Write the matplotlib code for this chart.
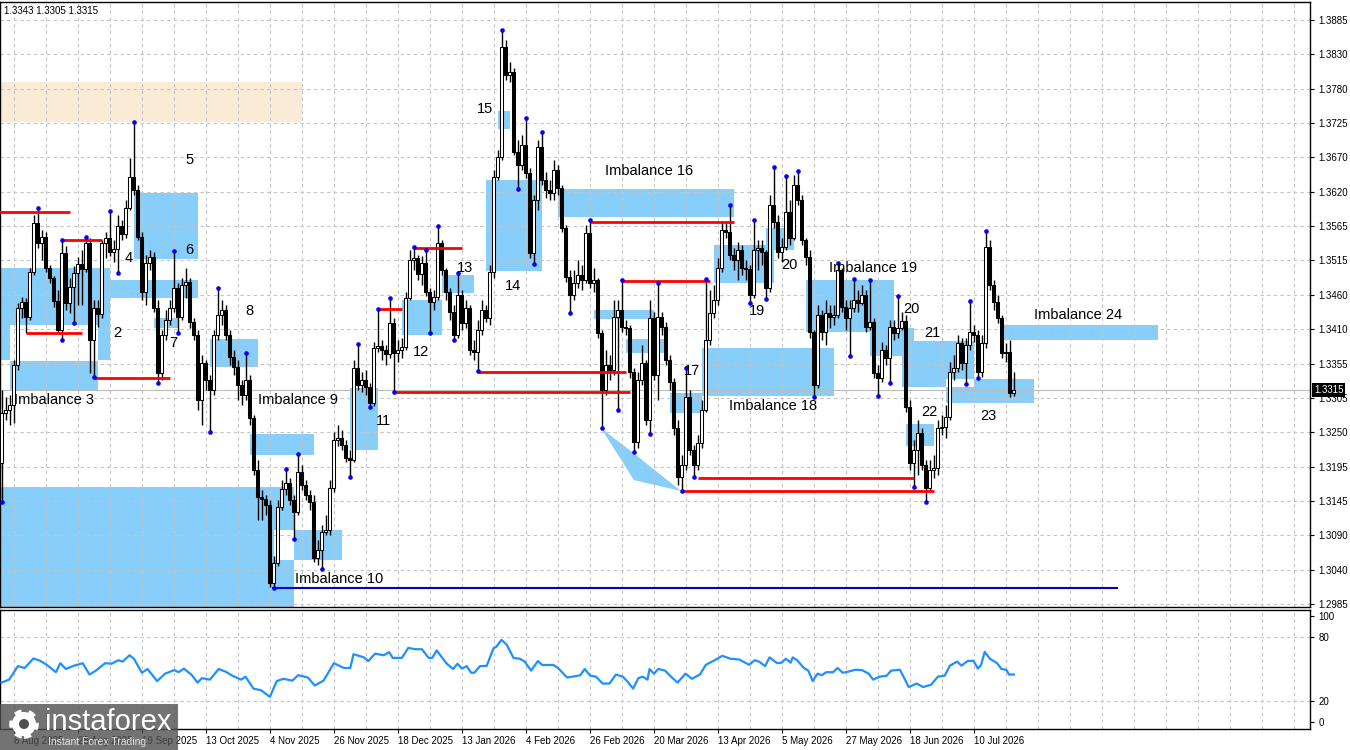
import numpy as np
import matplotlib.pyplot as plt
from matplotlib.patches import Rectangle, Polygon, Circle

plt.rcParams['font.family'] = ['Liberation Sans', 'DejaVu Sans']

# ---- daily candles (bar 0 = 1 Aug 2025) ----
first_open = 1.3202
closes = [1.3279, 1.3284, 1.3292, 1.3353, 1.3441, 1.3450, 1.3427, 1.3497, 1.3572, 1.3541,
          1.3551, 1.3503, 1.3487, 1.3452, 1.3407, 1.3526, 1.3449, 1.3474, 1.3495, 1.3509,
          1.3501, 1.3541, 1.3392, 1.3441, 1.3432, 1.3541, 1.3549, 1.3527, 1.3532, 1.3567,
          1.3555, 1.3595, 1.3643, 1.3623, 1.3551, 1.3466, 1.3510, 1.3520, 1.3441, 1.3341,
          1.3400, 1.3423, 1.3441, 1.3472, 1.3427, 1.3477, 1.3481, 1.3420, 1.3400, 1.3299,
          1.3356, 1.3330, 1.3315, 1.3400, 1.3430, 1.3438, 1.3400, 1.3366, 1.3350, 1.3322,
          1.3307, 1.3330, 1.3272, 1.3191, 1.3150, 1.3147, 1.3138, 1.3017, 1.3048, 1.3134,
          1.3162, 1.3171, 1.3145, 1.3127, 1.3188, 1.3168, 1.3153, 1.3142, 1.3056, 1.3068,
          1.3096, 1.3099, 1.3164, 1.3238, 1.3241, 1.3230, 1.3210, 1.3207, 1.3349, 1.3322,
          1.3330, 1.3319, 1.3295, 1.3379, 1.3383, 1.3376, 1.3370, 1.3418, 1.3372, 1.3376,
          1.3381, 1.3457, 1.3515, 1.3518, 1.3494, 1.3510, 1.3466, 1.3450, 1.3458, 1.3541,
          1.3500, 1.3466, 1.3435, 1.3400, 1.3461, 1.3418, 1.3441, 1.3376, 1.3373, 1.3407,
          1.3438, 1.3426, 1.3497, 1.3643, 1.3674, 1.3843, 1.3800, 1.3805, 1.3682, 1.3662,
          1.3692, 1.3649, 1.3526, 1.3608, 1.3689, 1.3638, 1.3623, 1.3618, 1.3654, 1.3626,
          1.3564, 1.3489, 1.3461, 1.3480, 1.3492, 1.3484, 1.3557, 1.3480, 1.3484, 1.3403,
          1.3315, 1.3353, 1.3346, 1.3427, 1.3438, 1.3412, 1.3410, 1.3343, 1.3235, 1.3330,
          1.3356, 1.3269, 1.3426, 1.3338, 1.3427, 1.3412, 1.3361, 1.3327, 1.3256, 1.3181,
          1.3199, 1.3304, 1.3222, 1.3199, 1.3233, 1.3284, 1.3392, 1.3434, 1.3453, 1.3503,
          1.3561, 1.3558, 1.3523, 1.3515, 1.3531, 1.3503, 1.3501, 1.3461, 1.3531, 1.3534,
          1.3527, 1.3472, 1.3600, 1.3574, 1.3527, 1.3535, 1.3589, 1.3549, 1.3631, 1.3608,
          1.3546, 1.3520, 1.3404, 1.3322, 1.3430, 1.3404, 1.3434, 1.3427, 1.3430, 1.3500,
          1.3443, 1.3426, 1.3441, 1.3453, 1.3449, 1.3461, 1.3412, 1.3420, 1.3341, 1.3333,
          1.3376, 1.3364, 1.3412, 1.3403, 1.3410, 1.3421, 1.3289, 1.3202, 1.3222, 1.3249,
          1.3199, 1.3164, 1.3191, 1.3195, 1.3256, 1.3258, 1.3273, 1.3343, 1.3349, 1.3387,
          1.3356, 1.3384, 1.3404, 1.3400, 1.3343, 1.3387, 1.3535, 1.3477, 1.3450, 1.3426,
          1.3372, 1.3373, 1.3310, 1.3315]
highs = [1.3315, 1.3304, 1.3307, 1.3361, 1.3449, 1.3458, 1.3457, 1.3503, 1.3584, 1.3595,
         1.3561, 1.3558, 1.3507, 1.3490, 1.3469, 1.3546, 1.3537, 1.3487, 1.3506, 1.3520,
         1.3531, 1.3551, 1.3549, 1.3453, 1.3453, 1.3546, 1.3558, 1.3591, 1.3546, 1.3584,
         1.3577, 1.3608, 1.3672, 1.3728, 1.3631, 1.3558, 1.3523, 1.3531, 1.3527, 1.3453,
         1.3407, 1.3438, 1.3453, 1.3529, 1.3480, 1.3487, 1.3503, 1.3487, 1.3426, 1.3407,
         1.3369, 1.3361, 1.3338, 1.3407, 1.3472, 1.3453, 1.3446, 1.3407, 1.3376, 1.3361,
         1.3330, 1.3372, 1.3338, 1.3276, 1.3207, 1.3161, 1.3153, 1.3145, 1.3059, 1.3145,
         1.3176, 1.3193, 1.3179, 1.3153, 1.3216, 1.3199, 1.3176, 1.3161, 1.3153, 1.3084,
         1.3107, 1.3122, 1.3176, 1.3250, 1.3261, 1.3253, 1.3238, 1.3222, 1.3361, 1.3386,
         1.3343, 1.3346, 1.3326, 1.3389, 1.3440, 1.3392, 1.3384, 1.3457, 1.3426, 1.3392,
         1.3395, 1.3466, 1.3531, 1.3535, 1.3523, 1.3521, 1.3531, 1.3472, 1.3469, 1.3567,
         1.3546, 1.3503, 1.3472, 1.3446, 1.3495, 1.3469, 1.3453, 1.3446, 1.3392, 1.3423,
         1.3453, 1.3446, 1.3507, 1.3654, 1.3685, 1.3870, 1.3854, 1.3820, 1.3811, 1.3700,
         1.3708, 1.3734, 1.3657, 1.3615, 1.3700, 1.3712, 1.3651, 1.3638, 1.3669, 1.3662,
         1.3631, 1.3569, 1.3500, 1.3500, 1.3515, 1.3507, 1.3569, 1.3577, 1.3503, 1.3487,
         1.3407, 1.3376, 1.3369, 1.3453, 1.3453, 1.3484, 1.3423, 1.3415, 1.3349, 1.3343,
         1.3384, 1.3361, 1.3453, 1.3435, 1.3480, 1.3435, 1.3420, 1.3369, 1.3333, 1.3269,
         1.3215, 1.3349, 1.3315, 1.3230, 1.3245, 1.3299, 1.3486, 1.3469, 1.3477, 1.3518,
         1.3574, 1.3574, 1.3600, 1.3534, 1.3543, 1.3538, 1.3515, 1.3507, 1.3577, 1.3546,
         1.3546, 1.3531, 1.3615, 1.3658, 1.3584, 1.3549, 1.3645, 1.3608, 1.3646, 1.3652,
         1.3615, 1.3549, 1.3531, 1.3407, 1.3446, 1.3438, 1.3453, 1.3446, 1.3446, 1.3510,
         1.3503, 1.3453, 1.3453, 1.3486, 1.3469, 1.3477, 1.3469, 1.3484, 1.3426, 1.3353,
         1.3389, 1.3384, 1.3423, 1.3423, 1.3460, 1.3435, 1.3430, 1.3299, 1.3238, 1.3269,
         1.3256, 1.3207, 1.3207, 1.3215, 1.3269, 1.3276, 1.3292, 1.3358, 1.3369, 1.3400,
         1.3395, 1.3395, 1.3452, 1.3415, 1.3407, 1.3400, 1.3560, 1.3546, 1.3484, 1.3461,
         1.3430, 1.3387, 1.3392, 1.3343]
lows = [1.3142, 1.3269, 1.3261, 1.3264, 1.3346, 1.3426, 1.3403, 1.3423, 1.3492, 1.3534,
        1.3515, 1.3497, 1.3480, 1.3443, 1.3403, 1.3392, 1.3438, 1.3434, 1.3418, 1.3446,
        1.3446, 1.3497, 1.3341, 1.3335, 1.3412, 1.3426, 1.3518, 1.3521, 1.3512, 1.3495,
        1.3546, 1.3549, 1.3592, 1.3615, 1.3546, 1.3453, 1.3446, 1.3500, 1.3435, 1.3326,
        1.3330, 1.3392, 1.3415, 1.3435, 1.3403, 1.3423, 1.3457, 1.3410, 1.3392, 1.3284,
        1.3261, 1.3315, 1.3250, 1.3307, 1.3392, 1.3415, 1.3392, 1.3353, 1.3338, 1.3299,
        1.3292, 1.3299, 1.3261, 1.3184, 1.3114, 1.3114, 1.3122, 1.3011, 1.3010, 1.3044,
        1.3130, 1.3153, 1.3138, 1.3085, 1.3122, 1.3161, 1.3145, 1.3130, 1.3050, 1.3045,
        1.3039, 1.3091, 1.3091, 1.3158, 1.3228, 1.3222, 1.3204, 1.3181, 1.3204, 1.3315,
        1.3312, 1.3307, 1.3289, 1.3290, 1.3373, 1.3361, 1.3353, 1.3364, 1.3312, 1.3358,
        1.3364, 1.3376, 1.3453, 1.3500, 1.3484, 1.3477, 1.3460, 1.3403, 1.3438, 1.3453,
        1.3492, 1.3453, 1.3423, 1.3392, 1.3395, 1.3407, 1.3410, 1.3369, 1.3361, 1.3344,
        1.3400, 1.3420, 1.3415, 1.3487, 1.3638, 1.3669, 1.3793, 1.3789, 1.3677, 1.3625,
        1.3654, 1.3641, 1.3518, 1.3509, 1.3592, 1.3631, 1.3611, 1.3608, 1.3608, 1.3615,
        1.3558, 1.3481, 1.3434, 1.3453, 1.3472, 1.3469, 1.3480, 1.3472, 1.3466, 1.3395,
        1.3256, 1.3307, 1.3330, 1.3338, 1.3284, 1.3404, 1.3400, 1.3333, 1.3219, 1.3225,
        1.3322, 1.3261, 1.3247, 1.3330, 1.3299, 1.3400, 1.3353, 1.3315, 1.3245, 1.3168,
        1.3159, 1.3191, 1.3215, 1.3181, 1.3191, 1.3225, 1.3281, 1.3384, 1.3426, 1.3446,
        1.3497, 1.3549, 1.3515, 1.3500, 1.3484, 1.3492, 1.3484, 1.3449, 1.3457, 1.3500,
        1.3507, 1.3455, 1.3466, 1.3564, 1.3518, 1.3512, 1.3531, 1.3538, 1.3546, 1.3600,
        1.3538, 1.3507, 1.3395, 1.3304, 1.3318, 1.3392, 1.3384, 1.3410, 1.3415, 1.3426,
        1.3435, 1.3407, 1.3367, 1.3435, 1.3435, 1.3446, 1.3404, 1.3407, 1.3333, 1.3306,
        1.3327, 1.3353, 1.3326, 1.3392, 1.3395, 1.3407, 1.3281, 1.3191, 1.3165, 1.3184,
        1.3191, 1.3142, 1.3158, 1.3179, 1.3184, 1.3245, 1.3241, 1.3269, 1.3330, 1.3343,
        1.3346, 1.3324, 1.3376, 1.3389, 1.3333, 1.3335, 1.3379, 1.3469, 1.3438, 1.3418,
        1.3364, 1.3358, 1.3304, 1.3305]

# fractal markers (bar index)
frac_hi = [9, 15, 21, 27, 33, 43, 54, 61, 71, 74, 89, 94, 97, 103, 106, 109, 114, 125,
           131, 135, 147, 155, 164, 171, 176, 182, 188, 193, 196, 199, 209, 213, 217, 224, 242, 246]
frac_lo = [0, 15, 18, 23, 29, 39, 44, 52, 68, 73, 80, 87, 92, 98, 107, 113, 119, 129, 133,
           142, 150, 154, 158, 162, 170, 173, 187, 191, 203, 212, 219, 222, 228, 231, 241, 244]

# imbalance zones: (first bar, last bar, top price, bottom price)
zones = [(-1, 27, 1.3503, 1.3415), (-1, 2, 1.3415, 1.3361), (24, 27, 1.3453, 1.3361),
         (2, 24, 1.3360, 1.3315), (27, 49, 1.3484, 1.3457), (33, 49, 1.3618, 1.3517),
         (38, 44, 1.3426, 1.3410), (-1, 68, 1.3165, 1.2975), (68, 73, 1.3165, 1.3099),
         (68, 73, 1.3053, 1.2975), (52, 64, 1.3394, 1.3350), (62, 78, 1.3247, 1.3215),
         (73, 85, 1.3099, 1.3053), (87, 94, 1.3318, 1.3222), (100, 110, 1.3453, 1.3400),
         (110, 118, 1.3492, 1.3464), (121, 135, 1.3638, 1.3498), (124, 127, 1.3745, 1.3717),
         (139, 183, 1.3625, 1.3581), (148, 163, 1.3438, 1.3424), (156, 166, 1.3393, 1.3372),
         (167, 175, 1.3310, 1.3279), (175, 208, 1.3379, 1.3306), (178, 193, 1.3538, 1.3480),
         (191, 198, 1.3564, 1.3531), (201, 223, 1.3484, 1.3404), (217, 228, 1.3410, 1.3367),
         (225, 243, 1.3390, 1.3332), (225, 236, 1.3332, 1.3319), (226, 233, 1.3262, 1.3228),
         (236, 258, 1.3319, 1.3295), (243, 258, 1.3332, 1.3319), (250.6, 289, 1.3415, 1.3392)]
supply_zone = (-1, 75, 1.3789, 1.3728)
wedge = [(149.9, 1.3256), (157.9, 1.3218), (169.9, 1.3159), (158.1, 1.3176)]

# red levels: (from bar, to bar, price)
levels = [(-1, 17, 1.3589), (15, 25, 1.3546), (6, 20, 1.3402), (23, 42, 1.3333),
          (94, 100, 1.3440), (103, 115, 1.3534), (98, 157, 1.3312), (119, 156, 1.3343),
          (147, 183, 1.3574), (155, 177, 1.3482), (174, 228, 1.3179), (170, 233, 1.3159)]
blue_level = (67.6, 279, 1.3010)

labels = [("5", 46.9, 1.3669, 'center'), ("6", 46.9, 1.3531, 'center'), ("4", 31.9, 1.3518, 'center'),
          ("2", 28.9, 1.3403, 'center'), ("7", 42.9, 1.3387, 'center'), ("8", 61.9, 1.3437, 'center'),
          ("Imbalance 3", 3.1, 1.3299, 'left'), ("Imbalance 9", 64.1, 1.3299, 'left'),
          ("Imbalance 10", 73.4, 1.3024, 'left'), ("11", 95.6, 1.3267, 'center'),
          ("12", 104.9, 1.3373, 'center'), ("13", 115.9, 1.3503, 'center'),
          ("14", 127.9, 1.3475, 'center'), ("15", 120.9, 1.3748, 'center'),
          ("Imbalance 16", 161.9, 1.3652, 'center'), ("17", 172.6, 1.3344, 'center'),
          ("Imbalance 18", 192.9, 1.3290, 'center'), ("19", 188.9, 1.3437, 'center'),
          ("20", 196.9, 1.3507, 'center'), ("Imbalance 19", 217.9, 1.3503, 'center'),
          ("20", 227.6, 1.3440, 'center'), ("21", 232.6, 1.3403, 'center'),
          ("22", 231.9, 1.3281, 'center'), ("23", 246.6, 1.3275, 'center'),
          ("Imbalance 24", 269.1, 1.3430, 'center')]

price_labels = ["1.3885", "1.3830", "1.3780", "1.3725", "1.3670", "1.3620", "1.3565", "1.3515",
                "1.3460", "1.3410", "1.3355", "1.3305", "1.3250", "1.3195", "1.3145", "1.3090",
                "1.3040", "1.2985"]
date_bars = [3, 19, 35, 51, 67, 83, 99, 115, 131, 147, 163, 179, 195, 211, 227, 243]
date_labels = ["6 Aug 2025", "28 Aug 2025", "19 Sep 2025", "13 Oct 2025", "4 Nov 2025",
               "26 Nov 2025", "18 Dec 2025", "13 Jan 2026", "4 Feb 2026", "26 Feb 2026",
               "20 Mar 2026", "13 Apr 2026", "5 May 2026", "27 May 2026", "18 Jun 2026",
               "10 Jul 2026"]
last_price = 1.3315

# oscillator readings (bar, value)
osc_bar = [0, 1.9, 4.1, 5.8, 8.0, 9.7, 11.3, 13.6, 14.7, 16.1, 18.0, 20.3, 22.0, 23.6, 25.9, 27.5,
           29.2, 30.3, 32.0, 33.1, 35.1, 36.5, 38.9, 40.9, 43.2, 44.3, 45.6, 47.6, 49.0, 50.1,
           52.1, 54.3, 56.0, 57.7, 59.9, 61.0, 63.0, 64.9, 67.1, 68.8, 70.5, 72.7, 74.2, 76.6,
           78.3, 80.5, 83.1, 85.6, 87.2, 88.0, 90.6, 91.7, 93.4, 95.6, 96.9, 97.8, 100.1, 101.7,
           103.4, 105.1, 106.8, 107.7, 108.8, 111.2, 112.9, 114.0, 115.1, 116.3, 117.4, 118.2,
           119.6, 121.3, 123.0, 123.7, 125.0, 126.3, 128.0, 129.6, 130.8, 132.4, 134.1, 135.2,
           138.0, 139.1, 141.4, 143.6, 144.7, 145.8, 147.2, 148.6, 150.3, 152.0, 153.6, 155.3,
           156.4, 157.9, 159.2, 160.3, 161.5, 162.0, 163.1, 164.2, 165.9, 167.6, 169.0, 171.0,
           172.6, 174.6, 176.1, 178.3, 180.2, 182.2, 184.4, 186.9, 188.3, 189.4, 190.9, 192.0,
           193.9, 195.0, 196.1, 197.3, 197.8, 198.9, 200.6, 201.7, 202.8, 204.0, 205.1, 206.2,
           207.9, 209.0, 210.3, 211.8, 213.4, 215.1, 216.8, 217.9, 219.6, 221.3, 222.4, 224.6,
           225.7, 226.8, 228.8, 230.4, 232.4, 234.1, 235.8, 237.1, 238.9, 240.0, 241.6, 243.0,
           244.1, 244.9, 245.8, 247.1, 248.9, 250.0, 251.2, 251.9, 253.1]
osc_val = [37.2, 40, 52.7, 51, 60, 57.7, 54, 47, 55.5, 50, 53, 55.5, 44.8, 48.5, 55.5, 55,
           58.3, 57, 63, 59.7, 46.5, 50, 38.6, 45.6, 49, 47, 50.4, 44.2, 37.2, 41.4,
           40, 50, 47.6, 43.7, 40, 42.8, 31.5, 30, 23.7, 38.6, 40.8, 39, 44.2, 42,
           34.4, 39, 55.5, 51, 51, 64, 61, 57.5, 64.5, 63, 66, 60.5, 60.5, 70,
           68.7, 68.7, 60.5, 60.5, 67.6, 55.5, 50, 55, 50.4, 52.7, 46.5, 46.5,
           52.7, 53, 69.6, 71, 77.5, 73, 60.5, 59.7, 57, 48.5, 57.5, 53.8,
           53.8, 51, 42, 43.3, 44.2, 50, 43.7, 42.8, 36.3, 36.3, 44.8, 42.8,
           38.6, 31.5, 41.4, 42.8, 40, 50, 45.6, 50, 48.5, 42, 37.2, 45.6,
           40.8, 44.8, 54, 58.3, 62.5, 59.7, 59, 54, 58.3, 57, 52.7, 61,
           55.5, 56, 59.7, 56, 61, 58.3, 51, 48.5, 38.6, 45.6, 44.2, 47,
           47, 51, 46.5, 47.6, 49.3, 49, 45.6, 40, 42.8, 43.7, 48.5, 49.3,
           41.4, 33, 36.3, 33, 35.2, 42.8, 43.7, 53.2, 57, 53.2, 57.7, 57.7,
           50.4, 54, 66.2, 59.7, 55.5, 50, 49.3, 44.8, 44.8]

# ---- figure ----
fig = plt.figure(figsize=(13.5, 7.5), dpi=100)
ax = fig.add_axes([0, 1 - 607 / 750, 1310 / 1350, 605 / 750])
ax2 = fig.add_axes([0, 1 - 729 / 750, 1310 / 1350, 119 / 750])

grid_kw = dict(color='#c4c4c4', lw=0.8, ls=(0, (3, 3)), zorder=2)
xmin, xmax = -0.375, 327.125
price_ticks = np.linspace(1.3885, 1.2985, len(price_labels))

for a in (ax, ax2):
    a.set_xlim(xmin, xmax)
    for gx in np.arange(3, xmax, 8):
        a.axvline(gx, **grid_kw)
    for s in a.spines.values():
        s.set_color('black')
        s.set_linewidth(1)

for py in price_ticks:
    ax.axhline(py, **grid_kw)
ax.axhline(last_price, color='#bcbcbc', lw=0.8, zorder=2)

# zones
b0, b1, top, bot = supply_zone
ax.add_patch(Rectangle((b0, bot), b1 - b0, top - bot, fc='#faebd7', ec='none', zorder=1))
for b0, b1, top, bot in zones:
    ax.add_patch(Rectangle((b0, bot), b1 - b0, top - bot, fc='#87cefa', ec='none', zorder=1))
ax.add_patch(Polygon(wedge, closed=True, fc='#87cefa', ec='none', zorder=1))

# candles
o = np.array([first_open] + closes[:-1])
c = np.array(closes)
x = np.arange(len(c))
up = c >= o
body = np.maximum(np.abs(c - o), 0.00008)
ax.vlines(x, lows, highs, color='black', lw=1.0, zorder=3)
ax.bar(x[up], body[up], bottom=o[up], width=0.7, color='white', edgecolor='black', lw=0.75, zorder=4)
ax.bar(x[~up], body[~up], bottom=c[~up], width=0.7, color='black', edgecolor='black', lw=0.75, zorder=4)

# levels
for b0, b1, p in levels:
    ax.hlines(p, b0, b1, color='#ff0000', lw=2, zorder=5)
ax.hlines(blue_level[2], blue_level[0], blue_level[1], color='#0000cd', lw=1.5, zorder=5)

hi = np.array(highs)
lo = np.array(lows)
ax.scatter(frac_hi, hi[frac_hi], s=11, color='#0000ff', zorder=6, lw=0)
ax.scatter(frac_lo, lo[frac_lo], s=11, color='#0000ff', zorder=6, lw=0)

for txt, bx, py, ha in labels:
    ax.text(bx, py, txt, fontsize=10.5, ha=ha, va='center', color='black', zorder=7)

ax.set_ylim(1.29804, 1.39127)
ax.yaxis.tick_right()
ax.set_yticks(price_ticks, price_labels)
ax.tick_params(axis='y', length=3, labelsize=7, pad=3)
ax.set_xticks([])
ax.text(1.003, last_price, f"{last_price:.4f}", transform=ax.get_yaxis_transform(),
        fontsize=7, color='white', va='center', ha='left', zorder=8,
        bbox=dict(fc='black', ec='none', pad=1.2))
fig.text(4 / 1350, 1 - 11 / 750, "1.3343 1.3305 1.3315", fontsize=7, va='center')

# oscillator panel
ax2.plot(osc_bar, osc_val, color='#1e90ff', lw=1.6, zorder=3)
for lv in (80, 20):
    ax2.axhline(lv, **grid_kw)
ax2.set_ylim(-6.6, 105.7)
ax2.yaxis.tick_right()
ax2.set_yticks([100, 80, 20, 0])
ax2.tick_params(axis='y', length=3, labelsize=7, pad=3)
ax2.set_xticks(date_bars, date_labels, ha='left')
ax2.tick_params(axis='x', length=3, labelsize=7, pad=2)

# watermark logo
fig.add_artist(Rectangle((0, 0), 178 / 1350, 46 / 750, transform=fig.transFigure,
                         fc='#505050', ec='none', alpha=0.8, zorder=10))
fig.add_artist(Circle((0.24, 0.26), 0.12, transform=fig.dpi_scale_trans, fc='white',
                      ec='white', lw=4, ls=(0, (1.2, 1.2)), zorder=11))
fig.add_artist(Circle((0.24, 0.26), 0.05, transform=fig.dpi_scale_trans, fc='#505050',
                      ec='none', zorder=12))
fig.text(45 / 1350, 1 - 722 / 750, "instaforex", fontsize=21, color='white', va='center', zorder=12)
fig.text(48 / 1350, 1 - 742 / 750, "Instant Forex Trading", fontsize=7.5, color='#e0e0e0',
         va='center', zorder=12)

fig.savefig('out.png', dpi=100)
